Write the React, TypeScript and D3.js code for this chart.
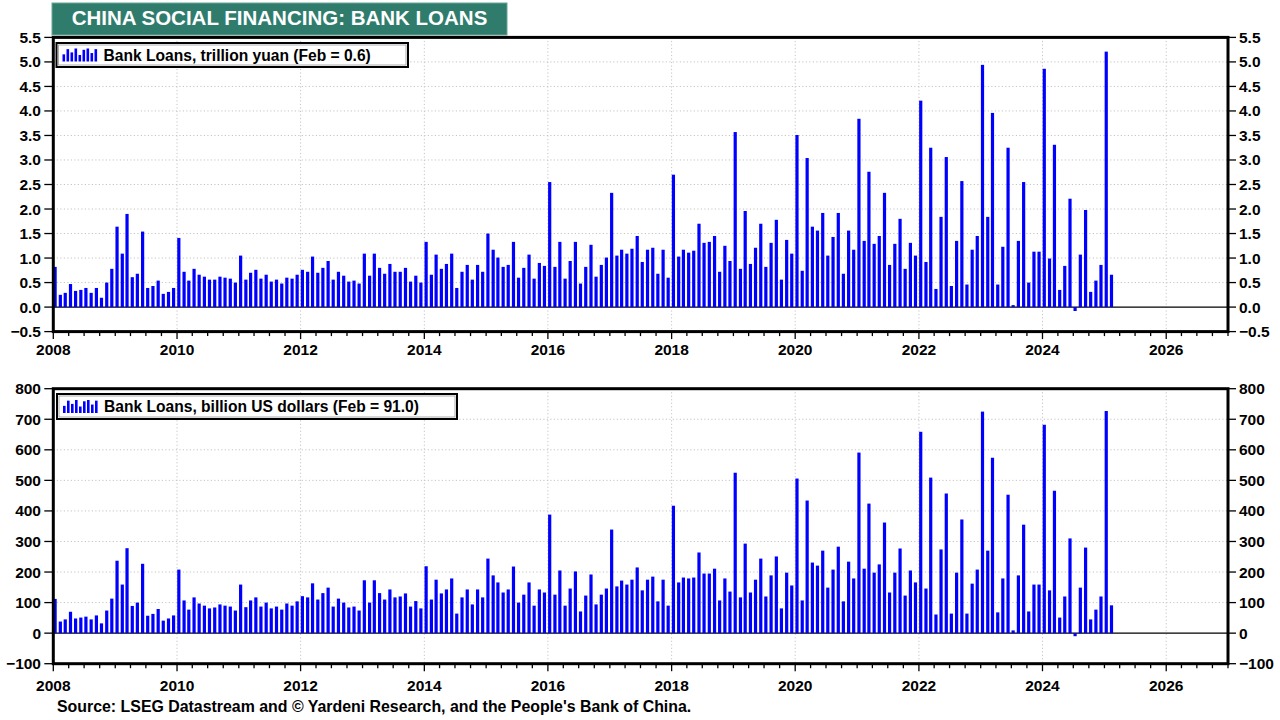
import React from "react";
import * as d3 from "d3";

// ---------- DATA (monthly, Jan 2008 .. Feb 2025) ----------
const firstYear = 2008;

const bankLoansYuan: number[] = [
  // 2008
  0.82, 0.25, 0.29, 0.47, 0.33, 0.35, 0.39, 0.29, 0.39, 0.19, 0.5, 0.78,
  // 2009
  1.64, 1.09, 1.9, 0.61, 0.68, 1.54, 0.39, 0.43, 0.54, 0.27, 0.31, 0.39,
  // 2010
  1.41, 0.72, 0.54, 0.78, 0.66, 0.62, 0.56, 0.56, 0.62, 0.6, 0.58, 0.5,
  // 2011
  1.05, 0.56, 0.7, 0.76, 0.58, 0.66, 0.52, 0.56, 0.48, 0.6, 0.58, 0.66,
  // 2012
  0.76, 0.72, 1.03, 0.7, 0.8, 0.94, 0.56, 0.72, 0.64, 0.52, 0.54, 0.48,
  // 2013
  1.09, 0.64, 1.09, 0.8, 0.68, 0.88, 0.72, 0.72, 0.8, 0.52, 0.64, 0.5,
  // 2014
  1.33, 0.66, 1.07, 0.78, 0.88, 1.09, 0.39, 0.72, 0.86, 0.56, 0.86, 0.72,
  // 2015
  1.5, 1.17, 1.01, 0.82, 0.86, 1.33, 0.6, 0.8, 1.07, 0.58, 0.9, 0.84,
  // 2016
  2.55, 0.82, 1.33, 0.58, 0.94, 1.33, 0.48, 0.82, 1.27, 0.62, 0.86, 1.01,
  // 2017
  2.33, 1.05, 1.17, 1.09, 1.19, 1.45, 0.92, 1.17, 1.21, 0.68, 1.17, 0.6,
  // 2018
  2.7, 1.03, 1.17, 1.11, 1.15, 1.7, 1.31, 1.33, 1.45, 0.72, 1.25, 0.94,
  // 2019
  3.57, 0.78, 1.96, 0.88, 1.21, 1.7, 0.82, 1.31, 1.78, 0.56, 1.37, 1.09,
  // 2020
  3.51, 0.74, 3.04, 1.64, 1.56, 1.92, 1.05, 1.43, 1.92, 0.68, 1.56, 1.17,
  // 2021
  3.84, 1.35, 2.76, 1.29, 1.45, 2.33, 0.86, 1.29, 1.8, 0.78, 1.31, 1.05,
  // 2022
  4.21, 0.92, 3.25, 0.37, 1.84, 3.06, 0.43, 1.35, 2.57, 0.46, 1.17, 1.45,
  // 2023
  4.94, 1.84, 3.96, 0.46, 1.23, 3.25, 0.04, 1.35, 2.55, 0.5, 1.13, 1.13,
  // 2024
  4.86, 0.99, 3.31, 0.35, 0.84, 2.21, -0.08, 1.07, 1.98, 0.31, 0.54, 0.86,
  // 2025
  5.21, 0.66,
];

const bankLoansUsd: number[] = [
  // 2008
  112, 38, 45, 70, 48, 51, 54, 45, 58, 32, 74, 113,
  // 2009
  237, 159, 278, 89, 100, 227, 57, 63, 79, 41, 48, 58,
  // 2010
  208, 107, 77, 117, 97, 90, 81, 84, 94, 90, 87, 74,
  // 2011
  159, 85, 107, 117, 87, 100, 81, 87, 77, 97, 90, 104,
  // 2012
  121, 117, 163, 110, 131, 149, 87, 113, 100, 84, 87, 74,
  // 2013
  173, 100, 173, 131, 110, 143, 117, 120, 130, 87, 105, 81,
  // 2014
  219, 110, 175, 130, 143, 179, 64, 117, 143, 94, 143, 117,
  // 2015
  244, 189, 166, 133, 143, 218, 100, 126, 166, 90, 143, 133,
  // 2016
  388, 126, 205, 90, 146, 202, 71, 123, 192, 94, 126, 146,
  // 2017
  339, 153, 172, 159, 175, 215, 140, 175, 185, 104, 175, 90,
  // 2018
  417, 166, 182, 179, 182, 264, 195, 195, 211, 107, 179, 136,
  // 2019
  525, 117, 293, 133, 175, 244, 120, 189, 251, 81, 198, 156,
  // 2020
  506, 107, 434, 231, 221, 270, 149, 208, 283, 104, 234, 179,
  // 2021
  591, 211, 424, 198, 225, 362, 133, 198, 277, 123, 205, 166,
  // 2022
  659, 146, 509, 61, 274, 457, 64, 198, 372, 64, 162, 208,
  // 2023
  725, 270, 574, 68, 179, 453, 9, 189, 355, 71, 159, 159,
  // 2024
  682, 140, 466, 51, 120, 310, -10, 149, 280, 45, 77, 120,
  // 2025
  727, 91,
];

const yuanTicks = [-0.5, 0, 0.5, 1, 1.5, 2, 2.5, 3, 3.5, 4, 4.5, 5, 5.5];
const usdTicks = [-100, 0, 100, 200, 300, 400, 500, 600, 700, 800];
const yearTicks = [2008, 2010, 2012, 2014, 2016, 2018, 2020, 2022, 2024, 2026];

const titleText = "CHINA SOCIAL FINANCING: BANK LOANS";
const legendYuan = "Bank Loans, trillion yuan (Feb = 0.6)";
const legendUsd = "Bank Loans, billion US dollars (Feb = 91.0)";
const sourceText =
  "Source: LSEG Datastream and \u00A9 Yardeni Research, and the People's Bank of China.";

// ---------- LAYOUT ----------
const W = 1280;
const H = 720;
const PLOT_L = 53.3;
const PLOT_R = 1228;
const FONT = "'Liberation Sans', Arial, Helvetica, sans-serif";
const BAR_BLUE = "#0000ff";
const GRID = "#c4c4c4";

const x = d3
  .scaleTime()
  .domain([new Date(2008, 0, 1), new Date(2027, 0, 1)])
  .range([PLOT_L, PLOT_R]);

const quarterTicks = x.ticks(d3.timeMonth.every(3) as d3.TimeInterval);

const ICON_HEIGHTS = [0.55, 0.95, 0.7, 1, 0.5, 0.9, 1, 0.65, 0.95];

interface PanelProps {
  id: string;
  values: number[];
  domain: [number, number];
  ticks: number[];
  top: number;
  bottom: number;
  fmt: (v: number) => string;
  legend: string;
  legendBox: { x: number; y: number; w: number; h: number };
  xLabelY: number;
}

function Panel(p: PanelProps) {
  const y = d3.scaleLinear().domain(p.domain).range([p.bottom, p.top]);
  const y0 = y(0);
  const lb = p.legendBox;
  const iconX0 = lb.x + 6;
  const iconBottom = lb.y + lb.h / 2 + 6.5;
  return (
    <g>
      <defs>
        <clipPath id={p.id}>
          <rect x={PLOT_L} y={p.top} width={PLOT_R - PLOT_L} height={p.bottom - p.top} />
        </clipPath>
      </defs>
      {/* horizontal grid */}
      {p.ticks
        .filter((t) => t !== 0 && t !== p.domain[0] && t !== p.domain[1])
        .map((t) => (
          <line
            key={"h" + t}
            x1={PLOT_L}
            x2={PLOT_R}
            y1={y(t)}
            y2={y(t)}
            stroke={GRID}
            strokeWidth={1}
            strokeDasharray="1.2,2.3"
          />
        ))}
      {/* vertical grid */}
      {yearTicks
        .filter((yr) => yr !== 2008)
        .map((yr) => (
          <line
            key={"v" + yr}
            x1={x(new Date(yr, 0, 1))}
            x2={x(new Date(yr, 0, 1))}
            y1={p.top}
            y2={p.bottom}
            stroke={GRID}
            strokeWidth={1}
            strokeDasharray="1.2,2.3"
          />
        ))}
      {/* zero line */}
      <line x1={PLOT_L} x2={PLOT_R} y1={y0} y2={y0} stroke="#000" strokeWidth={1.3} />
      {/* bars */}
      <g clipPath={`url(#${p.id})`}>
        {p.values.map((v, i) => {
          const cx = x(new Date(firstYear, i, 1)) + 1.8;
          const yt = y(Math.max(v, 0));
          const yb = y(Math.min(v, 0));
          return (
            <rect
              key={i}
              x={cx - 1.6}
              y={yt}
              width={3.2}
              height={Math.max(yb - yt, 1)}
              fill={BAR_BLUE}
            />
          );
        })}
      </g>
      {/* x ticks */}
      {quarterTicks.map((d, i) => {
        const major = d.getMonth() === 0 && d.getFullYear() % 2 === 0;
        const xx = x(d);
        return (
          <line
            key={"xt" + i}
            x1={xx}
            x2={xx}
            y1={p.bottom}
            y2={p.bottom + (major ? 7.5 : 4.5)}
            stroke="#000"
            strokeWidth={1.3}
          />
        );
      })}
      {/* y ticks */}
      {p.ticks.map((t) => (
        <g key={"yt" + t}>
          <line x1={PLOT_L - 9} x2={PLOT_L} y1={y(t)} y2={y(t)} stroke="#000" strokeWidth={1.3} />
          <line x1={PLOT_R} x2={PLOT_R + 8} y1={y(t)} y2={y(t)} stroke="#000" strokeWidth={1.3} />
          <text
            x={41}
            y={y(t) + 5.5}
            textAnchor="end"
            fontFamily={FONT}
            fontWeight="bold"
            fontSize={15.5}
            fill="#000"
          >
            {p.fmt(t)}
          </text>
          <text
            x={1239}
            y={y(t) + 5.5}
            textAnchor="start"
            fontFamily={FONT}
            fontWeight="bold"
            fontSize={15.5}
            fill="#000"
          >
            {p.fmt(t)}
          </text>
        </g>
      ))}
      {/* x labels */}
      {yearTicks.map((yr) => (
        <text
          key={"xl" + yr}
          x={x(new Date(yr, 0, 1))}
          y={p.xLabelY}
          textAnchor="middle"
          fontFamily={FONT}
          fontWeight="bold"
          fontSize={15.5}
          fill="#000"
        >
          {yr}
        </text>
      ))}
      {/* frame */}
      <rect
        x={PLOT_L}
        y={p.top}
        width={PLOT_R - PLOT_L}
        height={p.bottom - p.top}
        fill="none"
        stroke="#000"
        strokeWidth={3}
      />
      {/* legend */}
      <rect x={lb.x} y={lb.y} width={lb.w} height={lb.h} fill="#fff" stroke="#000" strokeWidth={2} />
      <rect
        x={lb.x + 2}
        y={lb.y + 2}
        width={lb.w - 4}
        height={lb.h - 4}
        fill="none"
        stroke="#9a9a9a"
        strokeWidth={0.8}
      />
      {ICON_HEIGHTS.map((h, i) => (
        <rect
          key={"ic" + i}
          x={iconX0 + i * 4}
          y={iconBottom - 13 * h}
          width={2.6}
          height={13 * h}
          fill={BAR_BLUE}
        />
      ))}
      <text
        x={lb.x + 47}
        y={lb.y + lb.h / 2 + 5.6}
        fontFamily={FONT}
        fontWeight="bold"
        fontSize={15.6}
        fill="#000"
      >
        {p.legend}
      </text>
    </g>
  );
}

export default function App() {
  return (
    <svg
      width={W}
      height={H}
      viewBox={`0 0 ${W} ${H}`}
      style={{ position: "fixed", left: 0, top: 0, background: "#fff" }}
    >
      <rect x={0} y={0} width={W} height={H} fill="#fff" />
      {/* title */}
      <rect x={52} y={3} width={455} height={32} fill="#2f7c6d" stroke="#6aa596" strokeWidth={1} />
      <text
        x={279.5}
        y={25.3}
        textAnchor="middle"
        fontFamily={FONT}
        fontWeight="bold"
        fontSize={20.5}
        fill="#fff"
      >
        {titleText}
      </text>

      <Panel
        id="clipTop"
        values={bankLoansYuan}
        domain={[-0.5, 5.5]}
        ticks={yuanTicks}
        top={37.4}
        bottom={331.6}
        fmt={d3.format(".1f")}
        legend={legendYuan}
        legendBox={{ x: 56.5, y: 43, w: 351.5, h: 24 }}
        xLabelY={355}
      />
      <Panel
        id="clipBottom"
        values={bankLoansUsd}
        domain={[-100, 800]}
        ticks={usdTicks}
        top={388.7}
        bottom={663.7}
        fmt={d3.format("d")}
        legend={legendUsd}
        legendBox={{ x: 57, y: 394, w: 400, h: 25 }}
        xLabelY={691}
      />

      <text x={57} y={712} fontFamily={FONT} fontWeight="bold" fontSize={15.9} fill="#000">
        {sourceText}
      </text>
    </svg>
  );
}
